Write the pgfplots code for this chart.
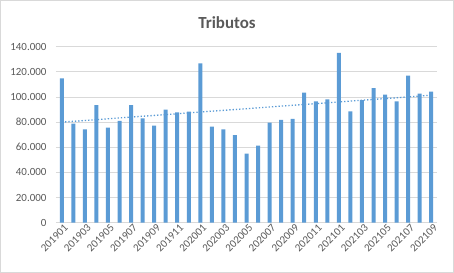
\documentclass[border=0pt]{standalone}
\usepackage{pgfplots}
\usepackage{pgfplotstable}
\pgfplotsset{compat=1.18}
\usepackage{fontspec}
\setmainfont{Carlito}
\definecolor{barblue}{HTML}{5B9BD5}
\definecolor{txtgray}{HTML}{595959}
\definecolor{gridgray}{HTML}{D9D9D9}
\pgfplotstableread{
x y
0 114800
1 78800
2 74200
3 93600
4 75600
5 80900
6 93600
7 83000
8 77200
9 89900
10 87800
11 88300
12 126800
13 76400
14 74200
15 69700
16 54900
17 61300
18 79600
19 81700
20 82500
21 103400
22 96500
23 98100
24 135000
25 88600
26 97600
27 107100
28 101800
29 96500
30 116900
31 102600
32 104200
}\data
\begin{document}
\begin{tikzpicture}
\useasboundingbox (0,0) rectangle (454bp,273bp);
\draw[gridgray, line width=0.8bp] (0.5bp,0.5bp) rectangle (453.5bp,272.5bp);
\node[font=\fontsize{17}{20}\selectfont\bfseries, text=txtgray] at (227bp,250bp) {Tributos};
\begin{axis}[
  at={(56bp,50.3bp)}, anchor=south west,
  scale only axis, width=381bp, height=176bp,
  xmin=-0.5, xmax=32.5, ymin=0, ymax=140000,
  ytick={0,20000,40000,60000,80000,100000,120000,140000},
  yticklabels={0,20.000,40.000,60.000,80.000,100.000,120.000,140.000},
  xtick={0,2,...,32},
  xticklabels={201901,201903,201905,201907,201909,201911,202001,202003,202005,202007,202009,202011,202101,202103,202105,202107,202109},
  x tick label style={rotate=45, anchor=north east, font=\fontsize{11}{13}\selectfont, text=txtgray, inner sep=1bp, xshift=1.5bp, yshift=-1bp},
  y tick label style={font=\fontsize{11}{13}\selectfont, text=txtgray, xshift=-6bp},
  scaled y ticks=false,
  ymajorgrids, grid style={gridgray, line width=0.8bp},
  axis line style={draw=none},
  major tick length=0pt,
  axis x line*=bottom, axis y line*=left,
  clip=false,
]
\draw[gridgray, line width=0.8bp] (axis cs:-0.5,0) -- (axis cs:32.5,0);
\addplot[ybar, bar width=4bp, fill=barblue, draw=none] table[x=x,y=y] \data;
\addplot[barblue, line width=1.3bp, dotted, no marks] table[x=x, y={create col/linear regression={y=y}}] \data;
\end{axis}
\end{tikzpicture}
\end{document}
